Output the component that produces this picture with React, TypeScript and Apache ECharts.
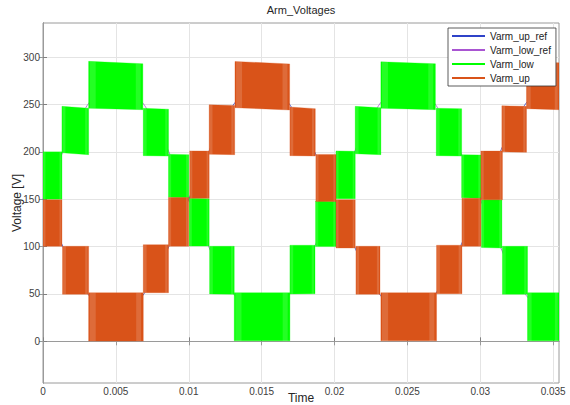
import React, { useEffect, useRef } from "react";
import * as echarts from "echarts";

// ---- Data ----
const xTicks = [0, 0.005, 0.01, 0.015, 0.02, 0.025, 0.03, 0.035];
const yTicks = [0, 50, 100, 150, 200, 250, 300];

// Varm_low (green) bands: start/end time, bottom/top at start and end
const lowStart = [0, 0.0013, 0.00313, 0.00688, 0.00861, 0.01003, 0.01143, 0.01312, 0.01694, 0.0187, 0.0201, 0.02142, 0.02318, 0.02698, 0.02872, 0.03008, 0.03152, 0.03324];
const lowEnd = [0.0013, 0.00313, 0.00685, 0.00861, 0.01, 0.0114, 0.01312, 0.01694, 0.01866, 0.0201, 0.02142, 0.02318, 0.02692, 0.02872, 0.03004, 0.03148, 0.03324, 0.0354];
const lowBot0 = [150, 199, 246, 196, 152, 100.5, 50, 0.5, 50, 100, 150.5, 198, 246, 196, 151.5, 99, 49.6, 0.5];
const lowBot1 = [150, 197, 244.5, 195.5, 151.5, 100.5, 49.6, 0.5, 50.2, 100, 150.5, 197, 244.5, 195.5, 151, 98.5, 49.6, 0.5];
const lowTop0 = [200, 248, 295.5, 246, 197.5, 151, 100.3, 51.3, 101.4, 148, 201, 248, 295, 246, 197, 149.5, 100.3, 51.3];
const lowTop1 = [200, 246, 293, 245, 197, 150.5, 100.3, 51.3, 101.4, 147.6, 200.5, 246.5, 293, 245.5, 196.6, 149.4, 100.3, 51.3];

// Varm_up (orange) bands
const upStart = [0, 0.00134, 0.00313, 0.00688, 0.00861, 0.01007, 0.0114, 0.01317, 0.01694, 0.01872, 0.0201, 0.02147, 0.02318, 0.027, 0.02874, 0.03004, 0.03148, 0.03317];
const upEnd = [0.0013, 0.00313, 0.00688, 0.00861, 0.00999, 0.0114, 0.01315, 0.01692, 0.01868, 0.0201, 0.02142, 0.02312, 0.027, 0.02874, 0.03004, 0.03152, 0.03317, 0.0354];
const upBot0 = [100.3, 49.6, 0.3, 51.3, 100.3, 151, 197.5, 246.6, 196, 147.6, 98.5, 49.6, 0.5, 50.2, 100.3, 149.4, 200, 245.6];
const upBot1 = [100.3, 49.6, 0.3, 51.3, 100.3, 151, 197, 244.2, 195.6, 147.6, 98.5, 49.6, 0.5, 50.2, 100.3, 149.4, 199.5, 244.5];
const upTop0 = [149.4, 100.3, 51.3, 102, 151.8, 201, 249.6, 295.4, 247.3, 197.3, 149.4, 100.3, 51.3, 101.4, 151, 200.8, 248.6, 294.5];
const upTop1 = [149.4, 100.3, 51.3, 102, 151.8, 200.8, 249, 292.8, 245.6, 197.3, 149.4, 100.3, 51.3, 101.4, 151, 200.8, 248, 294];

// Reference waveforms, sampled
const refTime = [0, 0.00125, 0.0025, 0.00375, 0.005, 0.00625, 0.0075, 0.00875, 0.01, 0.01125, 0.0125, 0.01375, 0.015, 0.01625, 0.0175, 0.01875, 0.02, 0.02125, 0.0225, 0.02375, 0.025, 0.02625, 0.0275, 0.02875, 0.03, 0.03125, 0.0325, 0.03375, 0.035];
const upRef = [150, 104, 65, 39, 30, 39, 65, 104, 150, 196, 235, 261, 270, 261, 235, 196, 150, 104, 65, 39, 30, 39, 65, 104, 150, 196, 235, 261, 270];
const lowRef = [150, 196, 235, 261, 270, 261, 235, 196, 150, 104, 65, 39, 30, 39, 65, 104, 150, 196, 235, 261, 270, 261, 235, 196, 150, 104, 65, 39, 30];

const COLORS = {
  upRef: "#2f43c8",
  lowRef: "#a955d2",
  low: "#00ff00",
  up: "#d95319",
};

const FONT = "'Liberation Sans', Arial, Helvetica, sans-serif";

function bands(s: number[], e: number[], b0: number[], b1: number[], t0: number[], t1: number[]) {
  return s.map((v, i) => [v, e[i], b0[i], b1[i], t0[i], t1[i]]);
}

function renderBand(params: any, api: any) {
  const x0 = api.value(0), x1 = api.value(1);
  const p1 = api.coord([x0, api.value(2)]);
  const p2 = api.coord([x1, api.value(3)]);
  const p3 = api.coord([x1, api.value(5)]);
  const p4 = api.coord([x0, api.value(4)]);
  const color = api.visual("color");
  const lerp = (a: number[], b: number[], f: number) => [a[0] + (b[0] - a[0]) * f, a[1] + (b[1] - a[1]) * f];
  // lighter switching strips near both ends of each PWM band
  const strip = (fa: number, fb: number) => ({
    type: "polygon",
    shape: { points: [lerp(p1, p2, fa), lerp(p1, p2, fb), lerp(p4, p3, fb), lerp(p4, p3, fa)] },
    style: { fill: "rgba(255,255,255,0.14)" },
  });
  return {
    type: "group",
    children: [
      {
        type: "polygon",
        shape: { points: [p1, p2, p3, p4] },
        style: { fill: color, stroke: color, lineWidth: 0.3 },
      },
      strip(0.02, 0.13),
      strip(0.87, 0.96),
    ],
  };
}

const fmtX = (v: number) => String(parseFloat(v.toFixed(4)));

export default function App() {
  const ref = useRef<HTMLDivElement>(null);
  useEffect(() => {
    if (!ref.current) return;
    const chart = echarts.init(ref.current, undefined, { renderer: "svg" });
    const xMin = 0, xMax = 0.0354, yMin = -44, yMax = 336;
    const option: any = {
      animation: false,
      backgroundColor: "#ffffff",
      textStyle: { fontFamily: FONT },
      graphic: [
        {
          type: "text",
          x: 301,
          y: 10,
          style: { text: "Arm_Voltages", align: "center", verticalAlign: "middle", font: `11px ${FONT}`, fill: "#262626" },
        },
        {
          type: "text",
          x: 301,
          y: 398,
          style: { text: "Time", align: "center", verticalAlign: "middle", font: `12px ${FONT}`, fill: "#262626" },
        },
        {
          type: "text",
          x: 17,
          y: 203,
          rotation: Math.PI / 2,
          style: { text: "Voltage [V]", align: "center", verticalAlign: "middle", font: `12px ${FONT}`, fill: "#262626" },
        },
      ],
      grid: {
        left: 43, right: 11, top: 23, bottom: 22,
        containLabel: false, outerBoundsMode: "none",
        show: true, borderColor: "#9a9a9a", borderWidth: 1, backgroundColor: "transparent",
      },
      legend: {
        orient: "vertical",
        left: 448,
        top: 28,
        padding: [2, 5, 2, 4],
        itemGap: 2,
        itemWidth: 33,
        itemHeight: 2,
        backgroundColor: "#ffffff",
        borderColor: "#333333",
        borderWidth: 0.8,
        textStyle: { fontSize: 10, color: "#222", fontFamily: FONT, lineHeight: 12 },
        data: [
          { name: "Varm_up_ref", icon: "rect" },
          { name: "Varm_low_ref", icon: "rect" },
          { name: "Varm_low", icon: "rect" },
          { name: "Varm_up", icon: "rect" },
        ],
      },
      xAxis: [
        {
          type: "value",
          min: xMin,
          max: xMax,
          axisLine: { show: true, lineStyle: { color: "#808080", width: 1 } },
          axisTick: { show: true, inside: true, length: 4, customValues: xTicks, lineStyle: { color: "#808080" } },
          axisLabel: { customValues: xTicks, formatter: fmtX, fontSize: 10, color: "#404040", margin: 3, fontFamily: FONT },
          splitLine: { show: true, lineStyle: { color: "#e4e4e4", width: 1 } },
        },
        {
          type: "value",
          position: "top",
          min: xMin,
          max: xMax,
          axisLine: { show: true, lineStyle: { color: "#9a9a9a" } },
          axisTick: { show: true, inside: true, length: 4, customValues: xTicks, lineStyle: { color: "#9a9a9a" } },
          axisLabel: { show: false },
          splitLine: { show: false },
        },
      ],
      yAxis: [
        {
          type: "value",
          min: yMin,
          max: yMax,
          axisLine: { show: true, lineStyle: { color: "#808080", width: 1 } },
          axisTick: { show: true, inside: true, length: 4, customValues: yTicks, lineStyle: { color: "#808080" } },
          axisLabel: { customValues: yTicks, fontSize: 10, color: "#404040", margin: 3, fontFamily: FONT },
          splitLine: { show: true, lineStyle: { color: "#e4e4e4", width: 1 } },
        },
        {
          type: "value",
          position: "right",
          min: yMin,
          max: yMax,
          axisLine: { show: true, lineStyle: { color: "#9a9a9a" } },
          axisTick: { show: true, inside: true, length: 4, customValues: yTicks, lineStyle: { color: "#9a9a9a" } },
          axisLabel: { show: false },
          splitLine: { show: false },
        },
      ],
      series: [
        {
          name: "Varm_up_ref",
          type: "line",
          data: refTime.map((t, i) => [t, upRef[i]]),
          smooth: true,
          showSymbol: false,
          symbol: "none",
          itemStyle: { color: COLORS.upRef },
          lineStyle: { color: COLORS.upRef, width: 0.8 },
          z: 1,
        },
        {
          name: "Varm_low_ref",
          type: "line",
          data: refTime.map((t, i) => [t, lowRef[i]]),
          smooth: true,
          showSymbol: false,
          symbol: "none",
          itemStyle: { color: COLORS.lowRef },
          lineStyle: { color: COLORS.lowRef, width: 0.8 },
          z: 1,
        },
        {
          name: "Varm_low",
          type: "custom",
          renderItem: renderBand,
          itemStyle: { color: COLORS.low },
          encode: { x: [0, 1], y: [2, 3, 4, 5] },
          data: bands(lowStart, lowEnd, lowBot0, lowBot1, lowTop0, lowTop1),
          clip: true,
          z: 2,
        },
        {
          name: "Varm_up",
          type: "custom",
          renderItem: renderBand,
          itemStyle: { color: COLORS.up },
          encode: { x: [0, 1], y: [2, 3, 4, 5] },
          data: bands(upStart, upEnd, upBot0, upBot1, upTop0, upTop1),
          clip: true,
          z: 3,
        },
      ],
    };
    chart.setOption(option);
    return () => chart.dispose();
  }, []);
  return (
    <div
      ref={ref}
      style={{ position: "fixed", left: 0, top: 0, width: 570, height: 405, background: "#fff" }}
    />
  );
}
